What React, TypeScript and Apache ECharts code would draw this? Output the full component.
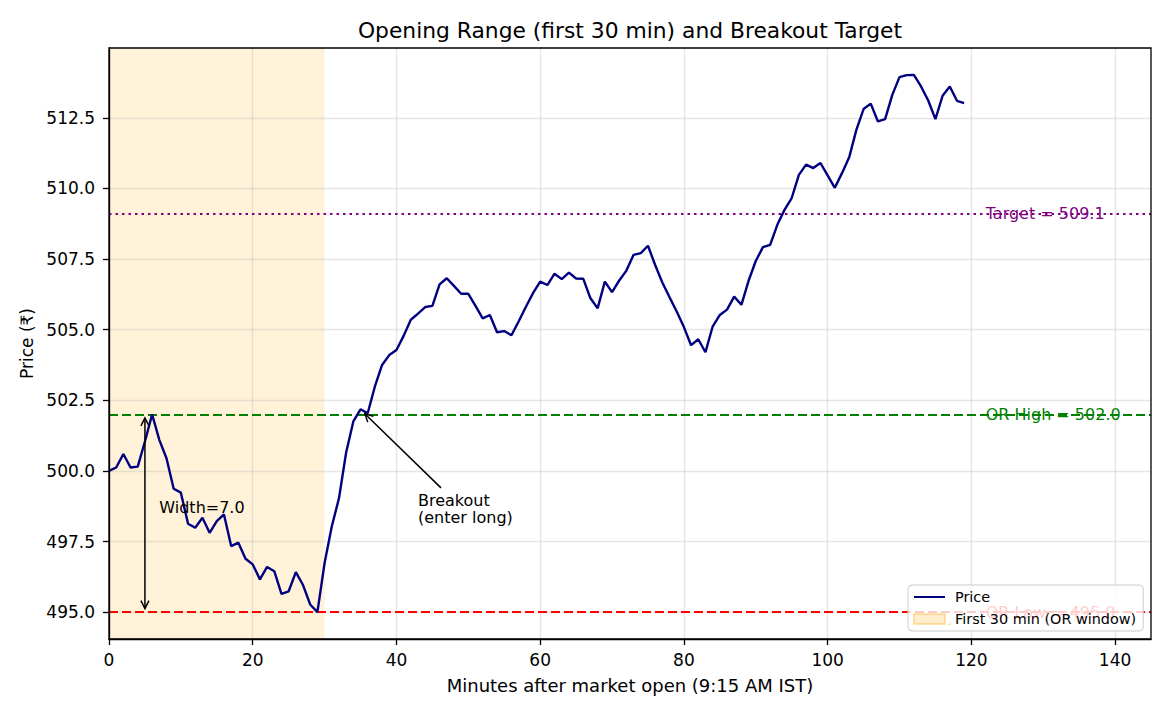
import React, { useEffect, useRef } from "react";
import * as echarts from "echarts";

// ---------- data ----------
// Price per minute after open (index = minute)
const PRICE: number[] = [
  500.0, 500.12, 500.6, 500.12, 500.15, 501.04, 502.0, 501.1, 500.45, 499.37,
  499.23, 498.13, 497.99, 498.34, 497.81, 498.22, 498.46, 497.34, 497.46, 496.89,
  496.69, 496.16, 496.6, 496.45, 495.65, 495.74, 496.42, 495.96, 495.27, 495.0,
  496.74, 498.03, 499.03, 500.65, 501.75, 502.18, 502.04, 502.99, 503.75, 504.1,
  504.28, 504.78, 505.35, 505.57, 505.8, 505.84, 506.6, 506.82, 506.55, 506.27,
  506.27, 505.84, 505.4, 505.52, 504.91, 504.95, 504.8, 505.29, 505.8, 506.29,
  506.7, 506.58, 506.98, 506.79, 507.02, 506.81, 506.8, 506.11, 505.76, 506.7,
  506.33, 506.74, 507.09, 507.65, 507.71, 507.97, 507.29, 506.67, 506.15, 505.64,
  505.09, 504.45, 504.66, 504.2, 505.11, 505.52, 505.71, 506.17, 505.88, 506.73,
  507.43, 507.92, 508.0, 508.71, 509.24, 509.66, 510.48, 510.84, 510.72, 510.9,
  510.46, 510.02, 510.54, 511.1, 512.07, 512.81, 513.0, 512.37, 512.45, 513.31,
  513.94, 514.01, 514.02, 513.61, 513.11, 512.45, 513.28, 513.61, 513.1, 513.02,
];

const OR_HIGH = 502.0;
const OR_LOW = 495.0;
const OR_WIDTH = 7.0;
const TARGET = 509.1;
const OR_WINDOW: [number, number] = [0, 30];

const X_TICKS = [0, 20, 40, 60, 80, 100, 120, 140];
const Y_TICKS = [495, 497.5, 500, 502.5, 505, 507.5, 510, 512.5];
const X_RANGE: [number, number] = [0, 145];
const Y_RANGE: [number, number] = [494.05, 514.97];

const LEVEL_LABEL_X = 122;
const WIDTH_ARROW_X = 5;
const WIDTH_TEXT_POS: [number, number] = [7, 498.7];
const BREAKOUT_POINT: [number, number] = [35.3, 502.1];
const BREAKOUT_ARROW_START: [number, number] = [46.2, 499.4];
const BREAKOUT_TEXT_POS: [number, number] = [43, 498.2];

const TITLE = "Opening Range (first 30 min) and Breakout Target";
const X_NAME = "Minutes after market open (9:15 AM IST)";
const Y_NAME = "Price (₹)";
const PRICE_NAME = "Price";
const WINDOW_NAME = "First 30 min (OR window)";

// ---------- styles ----------
const FONT = "DejaVu Sans";
const NAVY = "#000080";
const GREEN = "#008000";
const RED = "#ff0000";
const PURPLE = "#800080";
const GRID_COLOR = "rgba(176,176,176,0.32)";

// legend icons: 36x10 box (corner specks fix the box), visible mark in the left 31px
const BOX_CORNERS = "M0,0L0.05,0L0,0.05Z M36,10L35.95,10L36,9.95Z";
const LINE_ICON = `path://${BOX_CORNERS} M0,3.9L31,3.9L31,6.1L0,6.1Z`;
const PATCH_ICON = `path://${BOX_CORNERS} M0,0L31,0L31,10L0,10Z`;

function renderAnnotations(_params: any, api: any) {
  const children: any[] = [];
  const HEAD_LEN = 8;
  const HEAD_HALF = 4;
  const lw = 1.5;

  const addArrow = (
    p1: number[],
    p2: number[],
    s1: number,
    s2: number,
    headStart: boolean,
    headEnd: boolean
  ) => {
    const dx = p2[0] - p1[0];
    const dy = p2[1] - p1[1];
    const L = Math.hypot(dx, dy);
    const ux = dx / L;
    const uy = dy / L;
    const a = [p1[0] + ux * s1, p1[1] + uy * s1];
    const b = [p2[0] - ux * s2, p2[1] - uy * s2];
    children.push({
      type: "line",
      shape: { x1: a[0], y1: a[1], x2: b[0], y2: b[1] },
      style: { stroke: "#000", lineWidth: lw },
    });
    const head = (tip: number[], vx: number, vy: number) => {
      const bx = tip[0] - vx * HEAD_LEN;
      const by = tip[1] - vy * HEAD_LEN;
      const nx = -vy;
      const ny = vx;
      children.push({
        type: "polyline",
        shape: {
          points: [
            [bx + nx * HEAD_HALF, by + ny * HEAD_HALF],
            [tip[0], tip[1]],
            [bx - nx * HEAD_HALF, by - ny * HEAD_HALF],
          ],
        },
        style: { stroke: "#000", lineWidth: lw, fill: null },
      });
    };
    if (headEnd) head(b, ux, uy);
    if (headStart) head(a, -ux, -uy);
  };

  // OR width double arrow
  addArrow(
    api.coord([WIDTH_ARROW_X, OR_LOW]),
    api.coord([WIDTH_ARROW_X, OR_HIGH]),
    3.5,
    3.5,
    true,
    true
  );
  // breakout arrow
  addArrow(api.coord(BREAKOUT_ARROW_START), api.coord(BREAKOUT_POINT), 0, 3, false, true);

  const addText = (
    pos: number[],
    text: string,
    fill: string,
    va: string,
    dy = 0,
    lineHeight?: number
  ) => {
    const p = api.coord(pos);
    children.push({
      type: "text",
      x: p[0],
      y: p[1] + dy,
      style: {
        text,
        fill,
        fontSize: 16,
        fontFamily: FONT,
        align: "left",
        verticalAlign: va,
        lineHeight,
      },
    });
  };

  addText(WIDTH_TEXT_POS, `Width=${OR_WIDTH.toFixed(1)}`, "#000", "middle");
  addText(BREAKOUT_TEXT_POS, "Breakout\n(enter long)", "#000", "top", -30, 17);
  addText([LEVEL_LABEL_X, OR_HIGH], `OR High = ${OR_HIGH.toFixed(1)}`, GREEN, "middle");
  addText([LEVEL_LABEL_X, OR_LOW], `OR Low = ${OR_LOW.toFixed(1)}`, RED, "middle");
  addText([LEVEL_LABEL_X, TARGET], `Target = ${TARGET.toFixed(1)}`, PURPLE, "middle");

  return { type: "group", children };
}

function buildOption(): any {
  const gridLines = [
    ...X_TICKS.map((x) => ({ xAxis: x })),
    ...Y_TICKS.map((y) => ({ yAxis: y })),
  ];
  const axisLabelStyle = { color: "#000", fontSize: 17, fontFamily: FONT };
  return {
    animation: false,
    textStyle: { fontFamily: FONT },
    graphic: [
      {
        type: "text",
        x: 630,
        y: 30,
        style: {
          text: TITLE,
          fill: "#000",
          fontSize: 21.8,
          fontFamily: FONT,
          align: "center",
          verticalAlign: "middle",
        },
      },
    ],
    grid: {
      left: 109,
      right: 19,
      top: 48,
      bottom: 76,
      show: true,
      borderColor: "#000",
      borderWidth: 1.3,
      backgroundColor: "transparent",
      z: 6,
    },
    legend: {
      orient: "vertical",
      left: 908,
      top: 585,
      z: 20,
      data: [
        { name: PRICE_NAME, icon: LINE_ICON },
        { name: WINDOW_NAME, icon: PATCH_ICON },
      ],
      itemWidth: 36,
      itemHeight: 10,
      itemGap: 8,
      padding: [5, 7, 5, 5],
      backgroundColor: "rgba(255,255,255,0.8)",
      borderColor: "#cccccc",
      borderWidth: 1,
      borderRadius: 4,
      selectedMode: false,
      textStyle: { fontFamily: FONT, fontSize: 14.4, color: "#000", lineHeight: 14 },
    },
    xAxis: {
      type: "value",
      min: X_RANGE[0],
      max: X_RANGE[1],
      z: 6,
      name: X_NAME,
      nameLocation: "middle",
      nameGap: 37,
      nameTextStyle: { color: "#000", fontSize: 18, fontFamily: FONT },
      axisLine: { show: true, onZero: false, lineStyle: { color: "#000", width: 1.3 } },
      axisTick: {
        show: true,
        length: 6,
        customValues: X_TICKS,
        lineStyle: { color: "#000", width: 1.3 },
      },
      axisLabel: { ...axisLabelStyle, margin: 12, customValues: X_TICKS },
      splitLine: { show: false },
    },
    yAxis: {
      type: "value",
      min: Y_RANGE[0],
      max: Y_RANGE[1],
      z: 6,
      name: Y_NAME,
      nameLocation: "middle",
      nameGap: 72,
      nameTextStyle: { color: "#000", fontSize: 17, fontFamily: FONT },
      axisLine: { show: true, onZero: false, lineStyle: { color: "#000", width: 1.3 } },
      axisTick: {
        show: true,
        length: 6,
        customValues: Y_TICKS,
        lineStyle: { color: "#000", width: 1.3 },
      },
      axisLabel: {
        ...axisLabelStyle,
        margin: 14,
        customValues: Y_TICKS,
        formatter: (v: number) => v.toFixed(1),
      },
      splitLine: { show: false },
    },
    series: [
      {
        name: WINDOW_NAME,
        type: "bar",
        data: [],
        z: 1,
        itemStyle: {
          color: "rgba(255,165,0,0.2)",
          borderColor: "rgba(255,165,0,0.3)",
          borderWidth: 1,
        },
        markArea: {
          silent: true,
          z: 1,
          itemStyle: { color: "rgba(255,165,0,0.15)" },
          data: [[{ xAxis: OR_WINDOW[0] }, { xAxis: OR_WINDOW[1] }]],
        },
      },
      {
        name: "_grid",
        type: "line",
        data: [],
        z: 2,
        markLine: {
          silent: true,
          z: 2,
          symbol: ["none", "none"],
          label: { show: false },
          emphasis: { disabled: true },
          lineStyle: { color: GRID_COLOR, width: 1.4, type: "solid" },
          data: gridLines,
        },
      },
      {
        name: "_levels",
        type: "line",
        data: [],
        z: 3,
        markLine: {
          silent: true,
          z: 3,
          symbol: ["none", "none"],
          label: { show: false },
          emphasis: { disabled: true },
          data: [
            { yAxis: OR_HIGH, lineStyle: { color: GREEN, width: 2.2, type: [9, 4] } },
            { yAxis: OR_LOW, lineStyle: { color: RED, width: 2.2, type: [9, 4] } },
            { yAxis: TARGET, lineStyle: { color: PURPLE, width: 2.2, type: [2.5, 4] } },
          ],
        },
      },
      {
        name: PRICE_NAME,
        type: "line",
        z: 4,
        data: PRICE.map((v, i) => [i, v]),
        symbol: "none",
        showSymbol: false,
        lineStyle: { color: NAVY, width: 2.4 },
        itemStyle: { color: NAVY },
        silent: true,
      },
      {
        name: "_annotations",
        type: "custom",
        z: 5,
        silent: true,
        data: [[BREAKOUT_POINT[0], BREAKOUT_POINT[1]]],
        renderItem: renderAnnotations,
      },
    ],
  };
}

export default function App() {
  const ref = useRef<HTMLDivElement>(null);
  useEffect(() => {
    if (!ref.current) return;
    const chart = echarts.init(ref.current, null, { renderer: "svg" });
    chart.setOption(buildOption());
    return () => chart.dispose();
  }, []);
  return (
    <div
      ref={ref}
      style={{ position: "absolute", left: 0, top: 0, width: 1170, height: 715, background: "#fff" }}
    />
  );
}
